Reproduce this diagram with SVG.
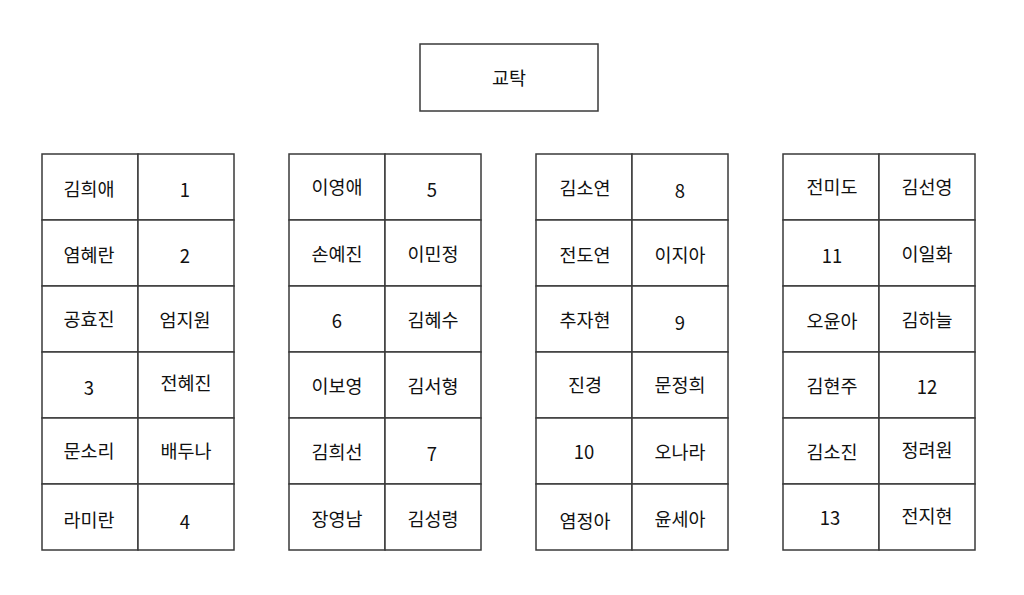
<svg xmlns="http://www.w3.org/2000/svg" width="1024" height="595" viewBox="0 0 1024 595">
<style>
rect.c{fill:#fff;stroke:#3a3a3a;stroke-width:1.5}
text{font-family:"Noto Sans CJK KR","Noto Sans",sans-serif;font-size:18.5px;fill:#111;text-anchor:middle;dominant-baseline:central}
</style>
<rect width="1024" height="595" fill="#fff"/>
<g id="desk"><rect class="c" x="420" y="44" width="178" height="67"/><text x="509" y="77">교탁</text></g>
<g id="group1">
<rect class="c" x="42" y="154" width="96" height="66"/><text x="89" y="188">김희애</text>
<rect class="c" x="138" y="154" width="96" height="66"/><text x="185" y="189">1</text>
<rect class="c" x="42" y="220" width="96" height="66"/><text x="89" y="254">염혜란</text>
<rect class="c" x="138" y="220" width="96" height="66"/><text x="185" y="255">2</text>
<rect class="c" x="42" y="286" width="96" height="66"/><text x="89" y="318">공효진</text>
<rect class="c" x="138" y="286" width="96" height="66"/><text x="185" y="319">엄지원</text>
<rect class="c" x="42" y="352" width="96" height="66"/><text x="89" y="387">3</text>
<rect class="c" x="138" y="352" width="96" height="66"/><text x="186" y="382">전혜진</text>
<rect class="c" x="42" y="418" width="96" height="66"/><text x="89" y="450">문소리</text>
<rect class="c" x="138" y="418" width="96" height="66"/><text x="186" y="450">배두나</text>
<rect class="c" x="42" y="484" width="96" height="66"/><text x="89" y="519">라미란</text>
<rect class="c" x="138" y="484" width="96" height="66"/><text x="185" y="521">4</text>
</g>
<g id="group2">
<rect class="c" x="289" y="154" width="96" height="66"/><text x="337" y="186">이영애</text>
<rect class="c" x="385" y="154" width="96" height="66"/><text x="432" y="189">5</text>
<rect class="c" x="289" y="220" width="96" height="66"/><text x="337" y="253">손예진</text>
<rect class="c" x="385" y="220" width="96" height="66"/><text x="433" y="253">이민정</text>
<rect class="c" x="289" y="286" width="96" height="66"/><text x="337" y="320">6</text>
<rect class="c" x="385" y="286" width="96" height="66"/><text x="433" y="319">김혜수</text>
<rect class="c" x="289" y="352" width="96" height="66"/><text x="337" y="385">이보영</text>
<rect class="c" x="385" y="352" width="96" height="66"/><text x="433" y="385">김서형</text>
<rect class="c" x="289" y="418" width="96" height="66"/><text x="337" y="451">김희선</text>
<rect class="c" x="385" y="418" width="96" height="66"/><text x="432" y="453">7</text>
<rect class="c" x="289" y="484" width="96" height="66"/><text x="337" y="518">장영남</text>
<rect class="c" x="385" y="484" width="96" height="66"/><text x="433" y="518">김성령</text>
</g>
<g id="group3">
<rect class="c" x="536" y="154" width="96" height="66"/><text x="585" y="187">김소연</text>
<rect class="c" x="632" y="154" width="96" height="66"/><text x="680" y="190">8</text>
<rect class="c" x="536" y="220" width="96" height="66"/><text x="585" y="254">전도연</text>
<rect class="c" x="632" y="220" width="96" height="66"/><text x="680" y="254">이지아</text>
<rect class="c" x="536" y="286" width="96" height="66"/><text x="585" y="319">추자현</text>
<rect class="c" x="632" y="286" width="96" height="66"/><text x="680" y="322">9</text>
<rect class="c" x="536" y="352" width="96" height="66"/><text x="585" y="384">진경</text>
<rect class="c" x="632" y="352" width="96" height="66"/><text x="680" y="384">문정희</text>
<rect class="c" x="536" y="418" width="96" height="66"/><text x="584" y="451">10</text>
<rect class="c" x="632" y="418" width="96" height="66"/><text x="680" y="451">오나라</text>
<rect class="c" x="536" y="484" width="96" height="66"/><text x="585" y="520">염정아</text>
<rect class="c" x="632" y="484" width="96" height="66"/><text x="680" y="518">윤세아</text>
</g>
<g id="group4">
<rect class="c" x="783" y="154" width="96" height="66"/><text x="832" y="186">전미도</text>
<rect class="c" x="879" y="154" width="96" height="66"/><text x="927" y="186">김선영</text>
<rect class="c" x="783" y="220" width="96" height="66"/><text x="832" y="255">11</text>
<rect class="c" x="879" y="220" width="96" height="66"/><text x="927" y="253">이일화</text>
<rect class="c" x="783" y="286" width="96" height="66"/><text x="832" y="320">오윤아</text>
<rect class="c" x="879" y="286" width="96" height="66"/><text x="927" y="319">김하늘</text>
<rect class="c" x="783" y="352" width="96" height="66"/><text x="832" y="385">김현주</text>
<rect class="c" x="879" y="352" width="96" height="66"/><text x="927" y="386">12</text>
<rect class="c" x="783" y="418" width="96" height="66"/><text x="832" y="451">김소진</text>
<rect class="c" x="879" y="418" width="96" height="66"/><text x="927" y="449">정려원</text>
<rect class="c" x="783" y="484" width="96" height="66"/><text x="830" y="517">13</text>
<rect class="c" x="879" y="484" width="96" height="66"/><text x="927" y="515">전지현</text>
</g>
</svg>
